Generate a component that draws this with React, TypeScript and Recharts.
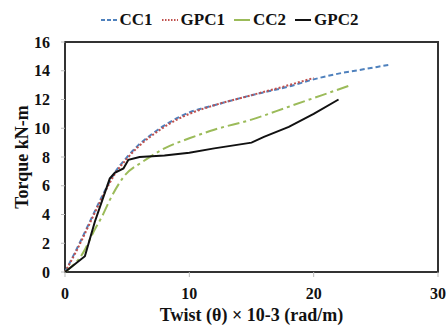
import React from "react";
import {
  LineChart,
  Line,
  XAxis,
  YAxis,
  ReferenceArea
} from "recharts";

// twist (x 10^-3 rad/m) and torque (kN-m) per specimen
const cc1Twist = [0, 1, 2, 3, 4, 5, 6, 7, 8, 9, 10, 12, 15, 18, 20, 22, 24, 26];
const cc1Torque = [0, 1.7, 3.5, 5.3, 6.9, 8.0, 8.9, 9.6, 10.2, 10.7, 11.1, 11.6, 12.3, 12.9, 13.4, 13.8, 14.1, 14.4];

const gpc1Twist = [0, 1, 2, 3, 4, 5, 6, 7, 8, 9, 10, 12, 15, 18, 20];
const gpc1Torque = [0, 1.6, 3.4, 5.2, 6.8, 7.9, 8.8, 9.5, 10.1, 10.6, 11.0, 11.6, 12.3, 13.0, 13.5];

const cc2Twist = [0, 1.5, 2.3, 3, 3.6, 4.7, 6.3, 7, 8, 10, 12, 15, 18, 20, 23];
const cc2Torque = [0, 1.4, 2.8, 3.9, 5.0, 6.6, 7.7, 8.1, 8.6, 9.3, 9.9, 10.6, 11.5, 12.1, 13.0];

const gpc2Twist = [0, 1.6, 2.4, 3.6, 4, 4.7, 5.1, 6, 8, 10, 12, 15, 16, 18, 20, 22];
const gpc2Torque = [0, 1.1, 3.5, 6.5, 6.9, 7.2, 7.8, 8.0, 8.1, 8.3, 8.6, 9.0, 9.4, 10.1, 11.0, 12.0];

const xTicks = [0, 10, 20, 30];
const yTicks = [0, 2, 4, 6, 8, 10, 12, 14, 16];

const zip = (xs: number[], ys: number[]) => xs.map((x, i) => ({ x, y: ys[i] }));

const SERIES = [
  { name: "CC1", data: zip(cc1Twist, cc1Torque), color: "#4f81bd", dash: "5 3", icon: "4 2", type: "monotone" },
  { name: "GPC1", data: zip(gpc1Twist, gpc1Torque), color: "#c0504d", dash: "2 2", icon: "1.5 1.5", type: "monotone" },
  { name: "CC2", data: zip(cc2Twist, cc2Torque), color: "#9bbb59", dash: "12 4 3 4", icon: undefined, type: "monotone" },
  { name: "GPC2", data: zip(gpc2Twist, gpc2Torque), color: "#111111", dash: undefined, icon: undefined, type: "linear" }
];

const FONT = "'Liberation Serif', 'Times New Roman', serif";

const LegendBox = () => (
  <div
    style={{
      position: "absolute",
      top: 10,
      left: 0,
      width: 447,
      display: "flex",
      justifyContent: "center",
      paddingLeft: 12,
      boxSizing: "border-box",
      gap: 9,
      fontFamily: FONT,
      fontWeight: 700,
      fontSize: 17,
      lineHeight: "20px",
      color: "#111"
    }}
  >
    {SERIES.map(s => (
      <div key={s.name} style={{ display: "flex", alignItems: "center", gap: 3 }}>
        <svg width={16} height={10}>
          <line x1={0} y1={5} x2={16} y2={5} stroke={s.color} strokeWidth={2} strokeDasharray={s.icon} />
        </svg>
        <span>{s.name}</span>
      </div>
    ))}
  </div>
);

const tickStyle = { fontFamily: FONT, fontWeight: 700, fontSize: 16, fill: "#111" };
const titleStyle = { fontFamily: FONT, fontWeight: 700, fontSize: 18, fill: "#111" };

export default function App() {
  return (
    <div style={{ position: "relative", width: 447, height: 326 }}>
      <style>{"body{margin:0}"}</style>
      <LineChart width={447} height={326} margin={{ top: 42, right: 9, bottom: 24, left: 5 }}>
        <XAxis
          dataKey="x"
          type="number"
          domain={[0, 30]}
          ticks={xTicks}
          tick={tickStyle}
          height={30}
          tickSize={5}
          tickMargin={11}
          axisLine={false}
          tickLine={{ stroke: "#bbb" }}
          allowDuplicatedCategory={false}
          label={{ value: "Twist (θ) × 10-3 (rad/m)", position: "insideBottom", offset: -19, style: titleStyle }}
        />
        <YAxis
          type="number"
          domain={[0, 16]}
          ticks={yTicks}
          tick={tickStyle}
          width={60}
          tickSize={4}
          tickMargin={11}
          axisLine={false}
          tickLine={{ stroke: "#bbb" }}
          label={{
            value: "Torque kN-m",
            angle: -90,
            position: "insideLeft",
            offset: 17,
            style: { ...titleStyle, textAnchor: "middle" }
          }}
        />
        <ReferenceArea x1={0} x2={30} y1={0} y2={16} fill="none" stroke="#333" strokeWidth={2} ifOverflow="visible" />
        {SERIES.map(s => (
          <Line
            key={s.name}
            data={s.data}
            dataKey="y"
            name={s.name}
            type={s.type as any}
            stroke={s.color}
            strokeWidth={2}
            strokeDasharray={s.dash}
            dot={false}
            activeDot={false}
            isAnimationActive={false}
          />
        ))}
      </LineChart>
      <LegendBox />
    </div>
  );
}
